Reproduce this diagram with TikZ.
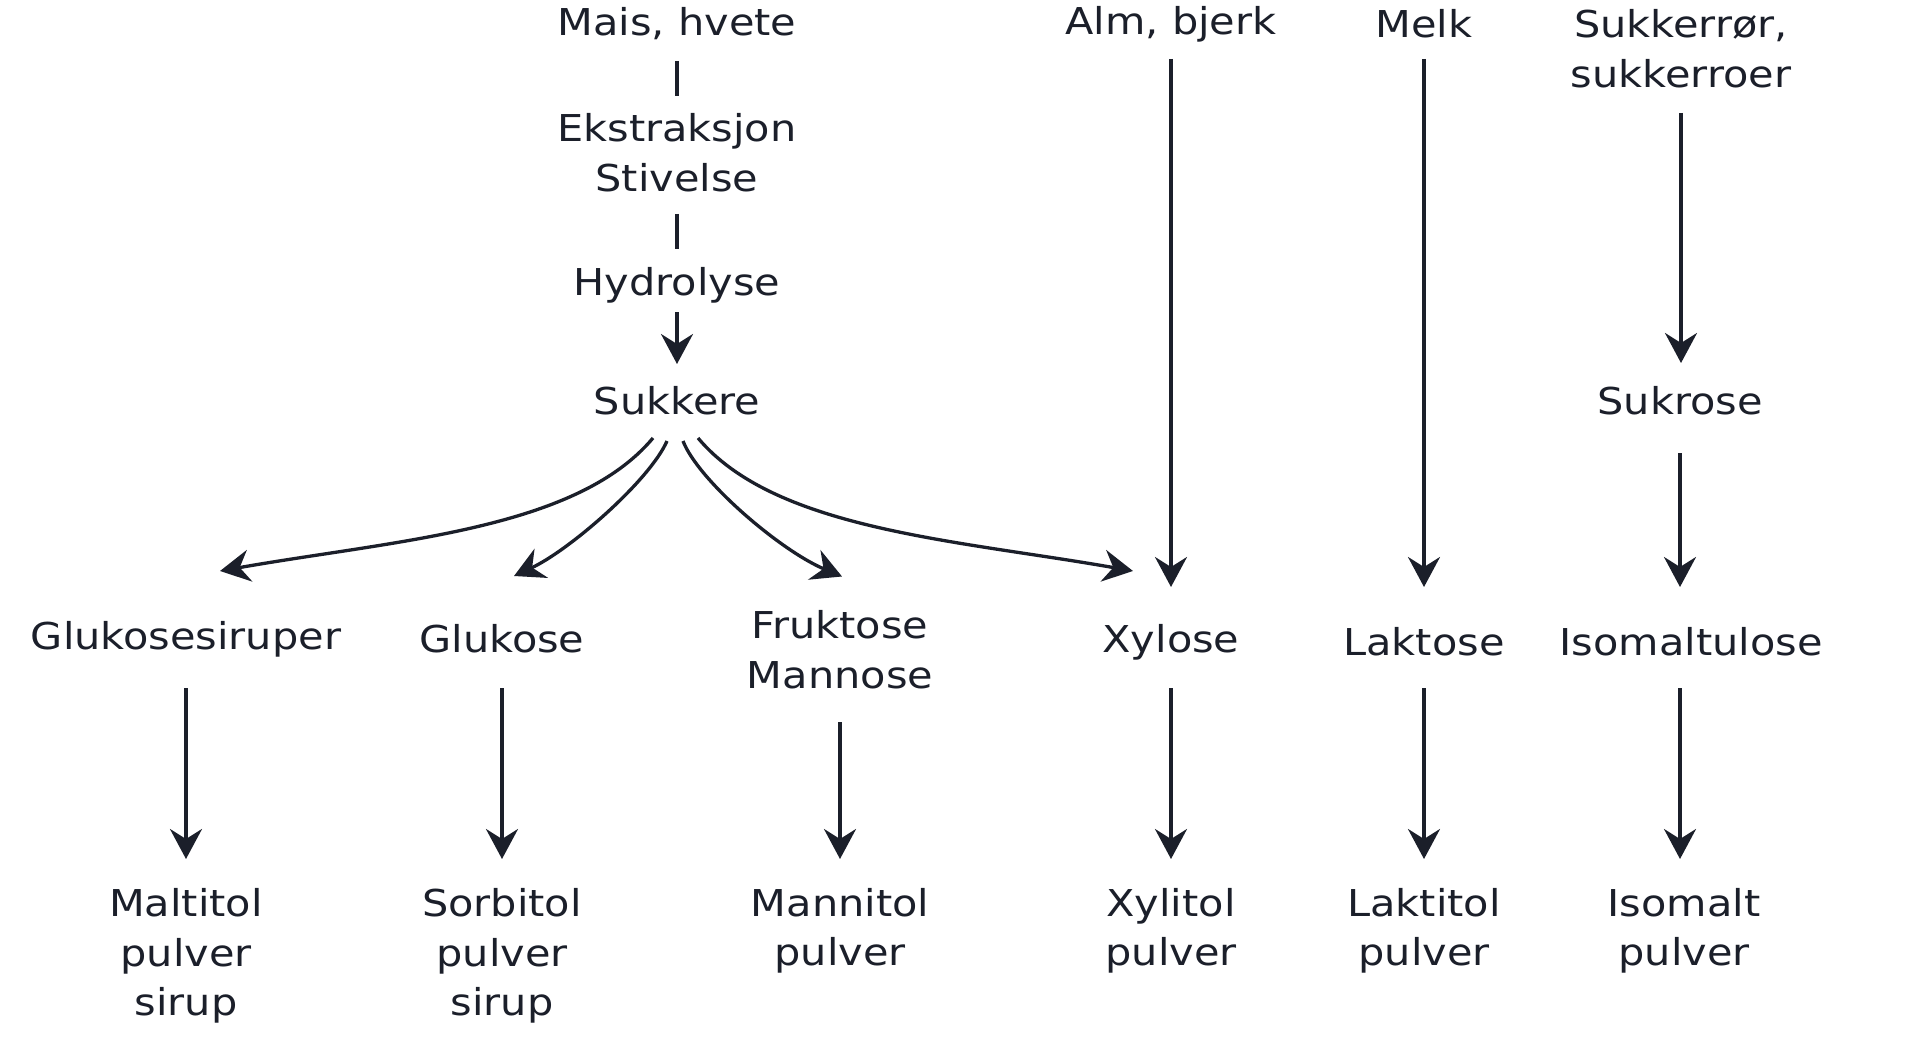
\documentclass[tikz,border=0pt]{standalone}
\usepackage{fontspec}
\setmainfont{DejaVu Sans}[FakeStretch=1.12]
\usetikzlibrary{arrows.meta}
\definecolor{ink}{RGB}{27,31,42}
\begin{document}
\begin{tikzpicture}[x=1pt,y=-1pt,
  lbl/.style={inner sep=0pt,align=center,text=ink,font=\fontsize{37}{49.5}\selectfont,yshift=-2pt},
  con/.style={draw=ink,line width=3.3pt},
  arr/.style={con,-{Stealth[length=30pt,width=32pt,inset=10pt]}}]
\useasboundingbox[fill=white] (0,0) rectangle (1920,1051);
% top row
\node[lbl] (mais) at (677,22) {Mais, hvete};
\node[lbl] (ekst) at (677,150.5) {Ekstraksjon\\Stivelse};
\node[lbl] (hyd) at (677,283) {Hydrolyse};
\node[lbl] (suk) at (677,399) {Sukkere};
\node[lbl] (alm) at (1171,22) {Alm, bjerk};
\node[lbl] (melk) at (1424,22) {Melk};
\node[lbl] (sr) at (1681,46.5) {Sukkerrør,\\sukkerroer};
\node[lbl] (sukr) at (1680,399) {Sukrose};
% middle row
\node[lbl] (glusir) at (186,637) {Glukosesiruper};
\node[lbl] (glu) at (502,637) {Glukose};
\node[lbl] (frukt) at (840,647.5) {Fruktose\\Mannose};
\node[lbl] (xyl) at (1171,640) {Xylose};
\node[lbl] (lak) at (1424,640) {Laktose};
\node[lbl] (iso) at (1691,640) {Isomaltulose};
% bottom row
\node[lbl] (malt) at (186,954) {Maltitol\\pulver\\sirup};
\node[lbl] (sorb) at (502,954) {Sorbitol\\pulver\\sirup};
\node[lbl] (mann) at (840,929) {Mannitol\\pulver};
\node[lbl] (xylit) at (1171,929) {Xylitol\\pulver};
\node[lbl] (lakt) at (1424,929) {Laktitol\\pulver};
\node[lbl] (isom) at (1684,929) {Isomalt\\pulver};
% connectors
\draw[con] ([yshift=-37pt]mais.center) -- ([yshift=56.5pt]ekst.center);
\draw[con] ([yshift=-61.5pt]ekst.center) -- ([yshift=36pt]hyd.center);
\draw[arr] ([yshift=-27pt]hyd.center) -- ([yshift=37pt]suk.center);
\draw[arr] ([xshift=-24pt,yshift=-37pt]suk.center) .. controls +(-77,92) and +(176,-31) .. ([xshift=34pt,yshift=68pt]glusir.center);
\draw[arr] ([xshift=-10pt,yshift=-40pt]suk.center) .. controls +(-17,39) and +(56,-26) .. ([xshift=12pt,yshift=63pt]glu.center);
\draw[arr] ([xshift=6pt,yshift=-40pt]suk.center) .. controls +(15,39) and +(-62,-26) .. ([xshift=2pt,yshift=73pt]frukt.center);
\draw[arr] ([xshift=21pt,yshift=-37pt]suk.center) .. controls +(77,92) and +(-176,-31) .. ([xshift=-38pt,yshift=71pt]xyl.center);
\draw[arr] ([yshift=-35pt]alm.center) -- ([yshift=55pt]xyl.center);
\draw[arr] ([yshift=-35pt]melk.center) -- ([yshift=55pt]lak.center);
\draw[arr] ([yshift=-64.5pt]sr.center) -- ([xshift=1pt,yshift=38pt]sukr.center);
\draw[arr] ([yshift=-52pt]sukr.center) -- ([xshift=-11pt,yshift=55pt]iso.center);
\draw[arr] ([yshift=-49pt]glusir.center) -- ([yshift=97pt]malt.center);
\draw[arr] ([yshift=-49pt]glu.center) -- ([yshift=97pt]sorb.center);
\draw[arr] ([yshift=-72.5pt]frukt.center) -- ([yshift=72pt]mann.center);
\draw[arr] ([yshift=-46pt]xyl.center) -- ([yshift=72pt]xylit.center);
\draw[arr] ([yshift=-46pt]lak.center) -- ([yshift=72pt]lakt.center);
\draw[arr] ([xshift=-11pt,yshift=-46pt]iso.center) -- ([xshift=-4pt,yshift=72pt]isom.center);
\end{tikzpicture}
\end{document}
